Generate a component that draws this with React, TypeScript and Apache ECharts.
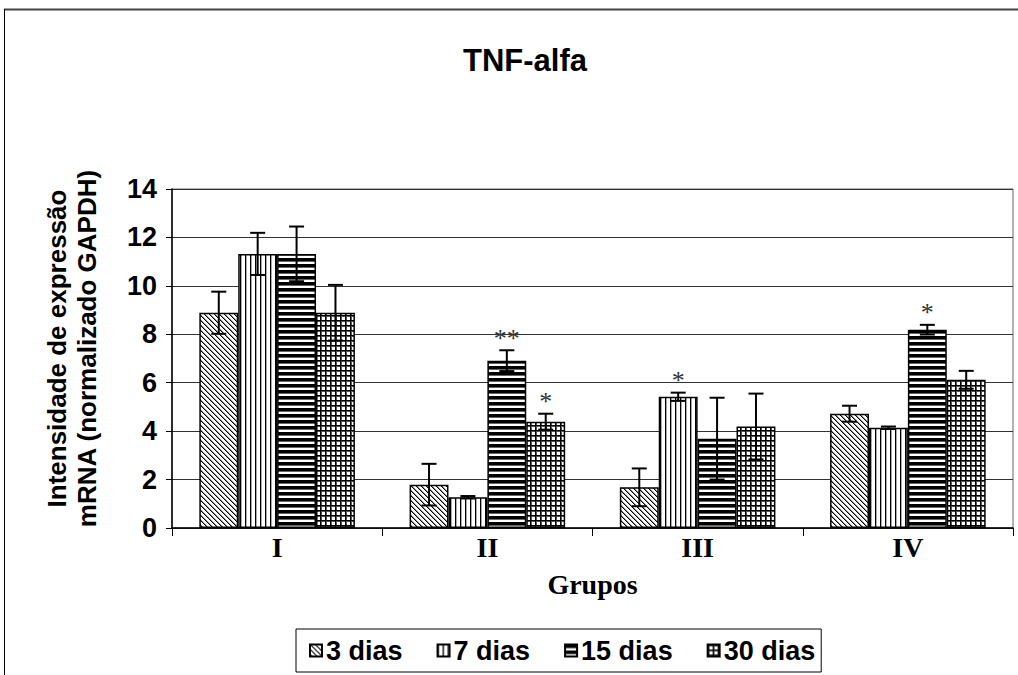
import React, { useEffect, useRef } from 'react';
import * as echarts from 'echarts';

const categories = ['I', 'II', 'III', 'IV'];
const seriesNames = ['3 dias', '7 dias', '15 dias', '30 dias'];

const values3 = [8.89, 1.79, 1.68, 4.72];
const errors3 = [0.87, 0.86, 0.78, 0.33];
const stars3 = [0, 0, 0, 0];

const values7 = [11.32, 1.27, 5.42, 4.14];
const errors7 = [0.87, 0.05, 0.17, 0.05];
const stars7 = [0, 0, 1, 0];

const values15 = [11.32, 6.91, 3.69, 8.19];
const errors15 = [1.13, 0.43, 1.69, 0.2];
const stars15 = [0, 2, 0, 1];

const values30 = [8.89, 4.39, 4.19, 6.12];
const errors30 = [1.15, 0.33, 1.36, 0.37];
const stars30 = [0, 1, 0, 0];

const yMin = 0;
const yMax = 14;
const yInterval = 2;

const allValues = [values3, values7, values15, values30];
const allErrors = [errors3, errors7, errors15, errors30];
const allStars = [stars3, stars7, stars15, stars30];

const CAT_GAP = 0.26;
const SANS = '"Liberation Sans", Arial, sans-serif';
const SERIF = '"Liberation Serif", "Times New Roman", serif';

function makePattern(kind: string) {
  const c = document.createElement('canvas');
  let w = 5;
  let h = 5;
  if (kind === 'diag') { w = 5; h = 5; }
  if (kind === 'vert') { w = 5; h = 2; }
  if (kind === 'horiz') { w = 2; h = 6; }
  if (kind === 'grid') { w = 5; h = 5; }
  c.width = w;
  c.height = h;
  const ctx = c.getContext('2d')!;
  ctx.fillStyle = '#fff';
  ctx.fillRect(0, 0, w, h);
  if (kind === 'diag') {
    for (let i = 0; i < w; i++) {
      ctx.fillStyle = '#000';
      ctx.fillRect(i, i, 1, 1);
      ctx.fillStyle = '#888';
      ctx.fillRect((i + 1) % w, i, 1, 1);
    }
  } else if (kind === 'vert') {
    ctx.fillStyle = '#000';
    ctx.fillRect(0, 0, 1, h);
    ctx.fillStyle = '#aaa';
    ctx.fillRect(1, 0, 1, h);
  } else if (kind === 'horiz') {
    ctx.fillStyle = '#000';
    ctx.fillRect(0, 0, w, 3);
    ctx.fillStyle = '#666';
    ctx.fillRect(0, 3, w, 1);
  } else if (kind === 'grid') {
    ctx.fillStyle = '#000';
    ctx.fillRect(0, 0, w, 1);
    ctx.fillRect(0, 0, 1, h);
    ctx.fillStyle = '#555';
    ctx.fillRect(1, 1, w - 1, 1);
    ctx.fillRect(1, 1, 1, h - 1);
  }
  return { image: c.toDataURL(), imageWidth: w, imageHeight: h, repeat: 'repeat' };
}

export default function App() {
  const ref = useRef<HTMLDivElement>(null);
  useEffect(() => {
    if (!ref.current) return;
    const chart = echarts.init(ref.current, null, { renderer: 'svg' });
    const kinds = ['diag', 'vert', 'horiz', 'grid'];

    const barSeries = seriesNames.map((name, k) => ({
      name,
      type: 'bar',
      data: allValues[k],
      barGap: '0%',
      barCategoryGap: (CAT_GAP * 100) + '%',
      itemStyle: {
        color: makePattern(kinds[k]) as any,
        borderColor: '#000',
        borderWidth: 1.5,
      },
      emphasis: { disabled: true },
      z: 2,
    }));

    const errSeries = seriesNames.map((name, k) => ({
      name: name + ' erro',
      type: 'custom',
      z: 5,
      silent: true,
      itemStyle: { color: '#333' },
      encode: { x: 0, y: 1 },
      data: categories.map((_, i) => [i, allValues[k][i], allErrors[k][i], allStars[k][i]]),
      renderItem: (params: any, api: any) => {
        const idx = api.value(0);
        const v = api.value(1);
        const e = api.value(2);
        const s = api.value(3);
        const band = api.size([1, 0])[0];
        const bw = (band * (1 - CAT_GAP)) / 4;
        const cx = api.coord([idx, v])[0] + (k - 1.5) * bw;
        const yt = api.coord([idx, v + e])[1];
        const yb = api.coord([idx, v - e])[1];
        const cap = 7.5;
        const ls = { stroke: '#000', lineWidth: 2 };
        const children: any[] = [
          { type: 'line', shape: { x1: cx, y1: yt, x2: cx, y2: yb }, style: ls },
          { type: 'line', shape: { x1: cx - cap, y1: yt, x2: cx + cap, y2: yt }, style: ls },
          { type: 'line', shape: { x1: cx - cap, y1: yb, x2: cx + cap, y2: yb }, style: ls },
        ];
        if (s > 0) {
          children.push({
            type: 'text',
            x: cx,
            y: yt - 12,
            style: {
              text: '*'.repeat(s),
              fill: '#333',
              fontSize: 26,
              fontFamily: SERIF,
              align: 'center',
              verticalAlign: 'middle',
            },
          });
        }
        return { type: 'group', children };
      },
    }));

    chart.setOption({
      animation: false,
      backgroundColor: '#fff',
      title: {
        text: 'TNF-alfa',
        left: 520,
        textAlign: 'center',
        top: 40,
        textStyle: { fontFamily: SANS, fontWeight: 'bold', fontSize: 31, color: '#000' },
      },
      legend: {
        data: seriesNames,
        left: 296,
        top: 629,
        orient: 'horizontal',
        icon: 'rect',
        itemWidth: 12,
        itemHeight: 12,
        itemGap: 34,
        padding: [8, 6, 8, 13],
        borderColor: '#000',
        borderWidth: 1,
        selectedMode: false,
        textStyle: { fontFamily: SANS, fontWeight: 'bold', fontSize: 27, color: '#000', padding: [0, 0, 0, -1] },
      },
      grid: {
        left: 172,
        right: 5,
        top: 189,
        bottom: 147,
        show: true,
        borderColor: '#666',
        borderWidth: 1,
        backgroundColor: 'transparent',
      },
      xAxis: {
        type: 'category',
        data: categories,
        name: 'Grupos',
        nameLocation: 'middle',
        nameGap: 42,
        nameTextStyle: { fontFamily: SERIF, fontWeight: 'bold', fontSize: 28, color: '#000' },
        axisLine: { lineStyle: { color: '#000', width: 1.5 } },
        axisTick: { show: true, alignWithLabel: false, length: 8, lineStyle: { color: '#000', width: 1 } },
        axisLabel: { fontFamily: SERIF, fontWeight: 'bold', fontSize: 28, color: '#000', margin: 5 },
        splitLine: { show: false },
      },
      yAxis: {
        type: 'value',
        min: yMin,
        max: yMax,
        interval: yInterval,
        name: 'Intensidade de expressão\nmRNA (normalizado GAPDH)',
        nameLocation: 'middle',
        nameGap: 70,
        nameTextStyle: { fontFamily: SANS, fontWeight: 'bold', fontSize: 26, color: '#000', lineHeight: 30, padding: [0, 0, 0, 20] },
        axisLine: { show: true, lineStyle: { color: '#000', width: 1.5 } },
        axisTick: { show: true, length: 6, lineStyle: { color: '#000', width: 1 } },
        axisLabel: { fontFamily: SANS, fontWeight: 'bold', fontSize: 27, color: '#000', margin: 15 },
        splitLine: { show: true, lineStyle: { color: '#333', width: 1 } },
      },
      graphic: [
        { type: 'line', shape: { x1: 4, y1: 9.5, x2: 1018, y2: 9.5 }, style: { stroke: '#444', lineWidth: 2 }, silent: true },
        { type: 'line', shape: { x1: 4.5, y1: 9, x2: 4.5, y2: 675 }, style: { stroke: '#000', lineWidth: 1 }, silent: true },
      ],
      series: [...barSeries, ...errSeries],
    } as any);
    return () => chart.dispose();
  }, []);
  return (
    <div
      ref={ref}
      style={{ position: 'fixed', left: 0, top: 0, width: 1018, height: 675, background: '#fff' }}
    />
  );
}
